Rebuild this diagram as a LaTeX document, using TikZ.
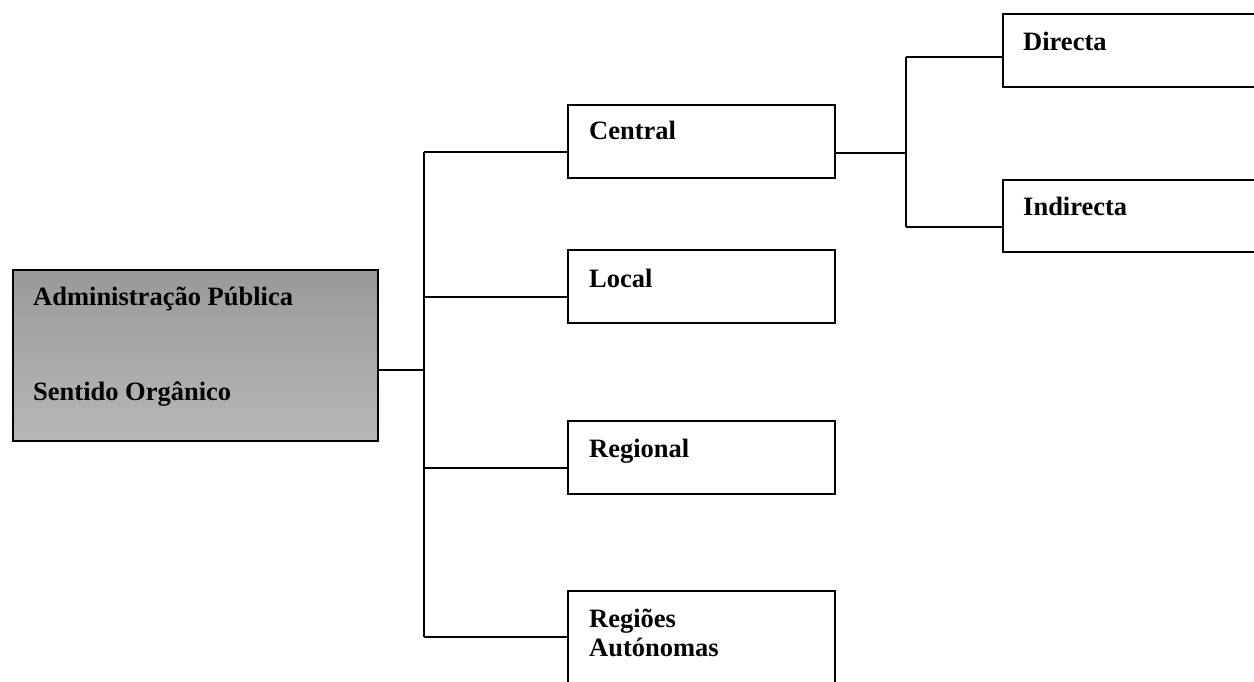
\documentclass[tikz,border=0pt]{standalone}
\usepackage{fontspec}
\setmainfont{Liberation Serif}
\begin{document}
\begin{tikzpicture}[x=1pt,y=-1pt,
  box/.style={draw, line width=2.3pt, anchor=north west, inner sep=0pt, minimum width=267pt, minimum height=73pt},
  lbl/.style={anchor=base west, inner sep=0pt, font=\bfseries\fontsize{26.5}{29}\selectfont},
  conn/.style={line width=2.2pt}]
\useasboundingbox (0,0) rectangle (1254,681);
\clip (0,0) rectangle (1254,681);
% main box
\node[box, minimum width=365pt, minimum height=171pt, top color=black!40, middle color=black!62, bottom color=black!28] (main) at (12,269) {};
\node[lbl] (maint1) at (33,305) {Administração Pública};
\node[lbl] (maint2) at (33,400) {Sentido Orgânico};
% level 1
\node[box] (central) at (567,104) {};
\node[lbl] (centralt) at (589,139) {Central};
\node[box] (local) at (567,249) {};
\node[lbl] (localt) at (589,287) {Local};
\node[box] (regional) at (567,420) {};
\node[lbl] (regionalt) at (589,457) {Regional};
\node[box, minimum height=130pt] (regioes) at (567,590) {};
\node[lbl] (regioest1) at (589,627) {Regiões};
\node[lbl] (regioest2) at (589,656) {Autónomas};
% level 2
\node[box, minimum width=300pt] (directa) at (1002,13) {};
\node[lbl] (directat) at (1023,50) {Directa};
\node[box, minimum width=300pt, minimum height=72pt] (indirecta) at (1002,179) {};
\node[lbl] (indirectat) at (1023,215) {Indirecta};
% connectors
\coordinate (jm) at (424,370);
\coordinate (jc) at (424,152);
\coordinate (jl) at (424,297);
\coordinate (jr) at (424,468);
\coordinate (ja) at (424,637);
\draw[conn] (main.east |- jm) -- (jm);
\draw[conn] (jc) -- (ja);
\draw[conn] (jc) -- (jc -| central.west);
\draw[conn] (jl) -- (jl -| local.west);
\draw[conn] (jr) -- (jr -| regional.west);
\draw[conn] (ja) -- (ja -| regioes.west);
\coordinate (kc) at (906,153);
\coordinate (kd) at (906,57);
\coordinate (ki) at (906,227);
\draw[conn] (central.east |- kc) -- (kc);
\draw[conn] (kd) -- (ki);
\draw[conn] (kd) -- (kd -| directa.west);
\draw[conn] (ki) -- (ki -| indirecta.west);
\end{tikzpicture}
\end{document}
